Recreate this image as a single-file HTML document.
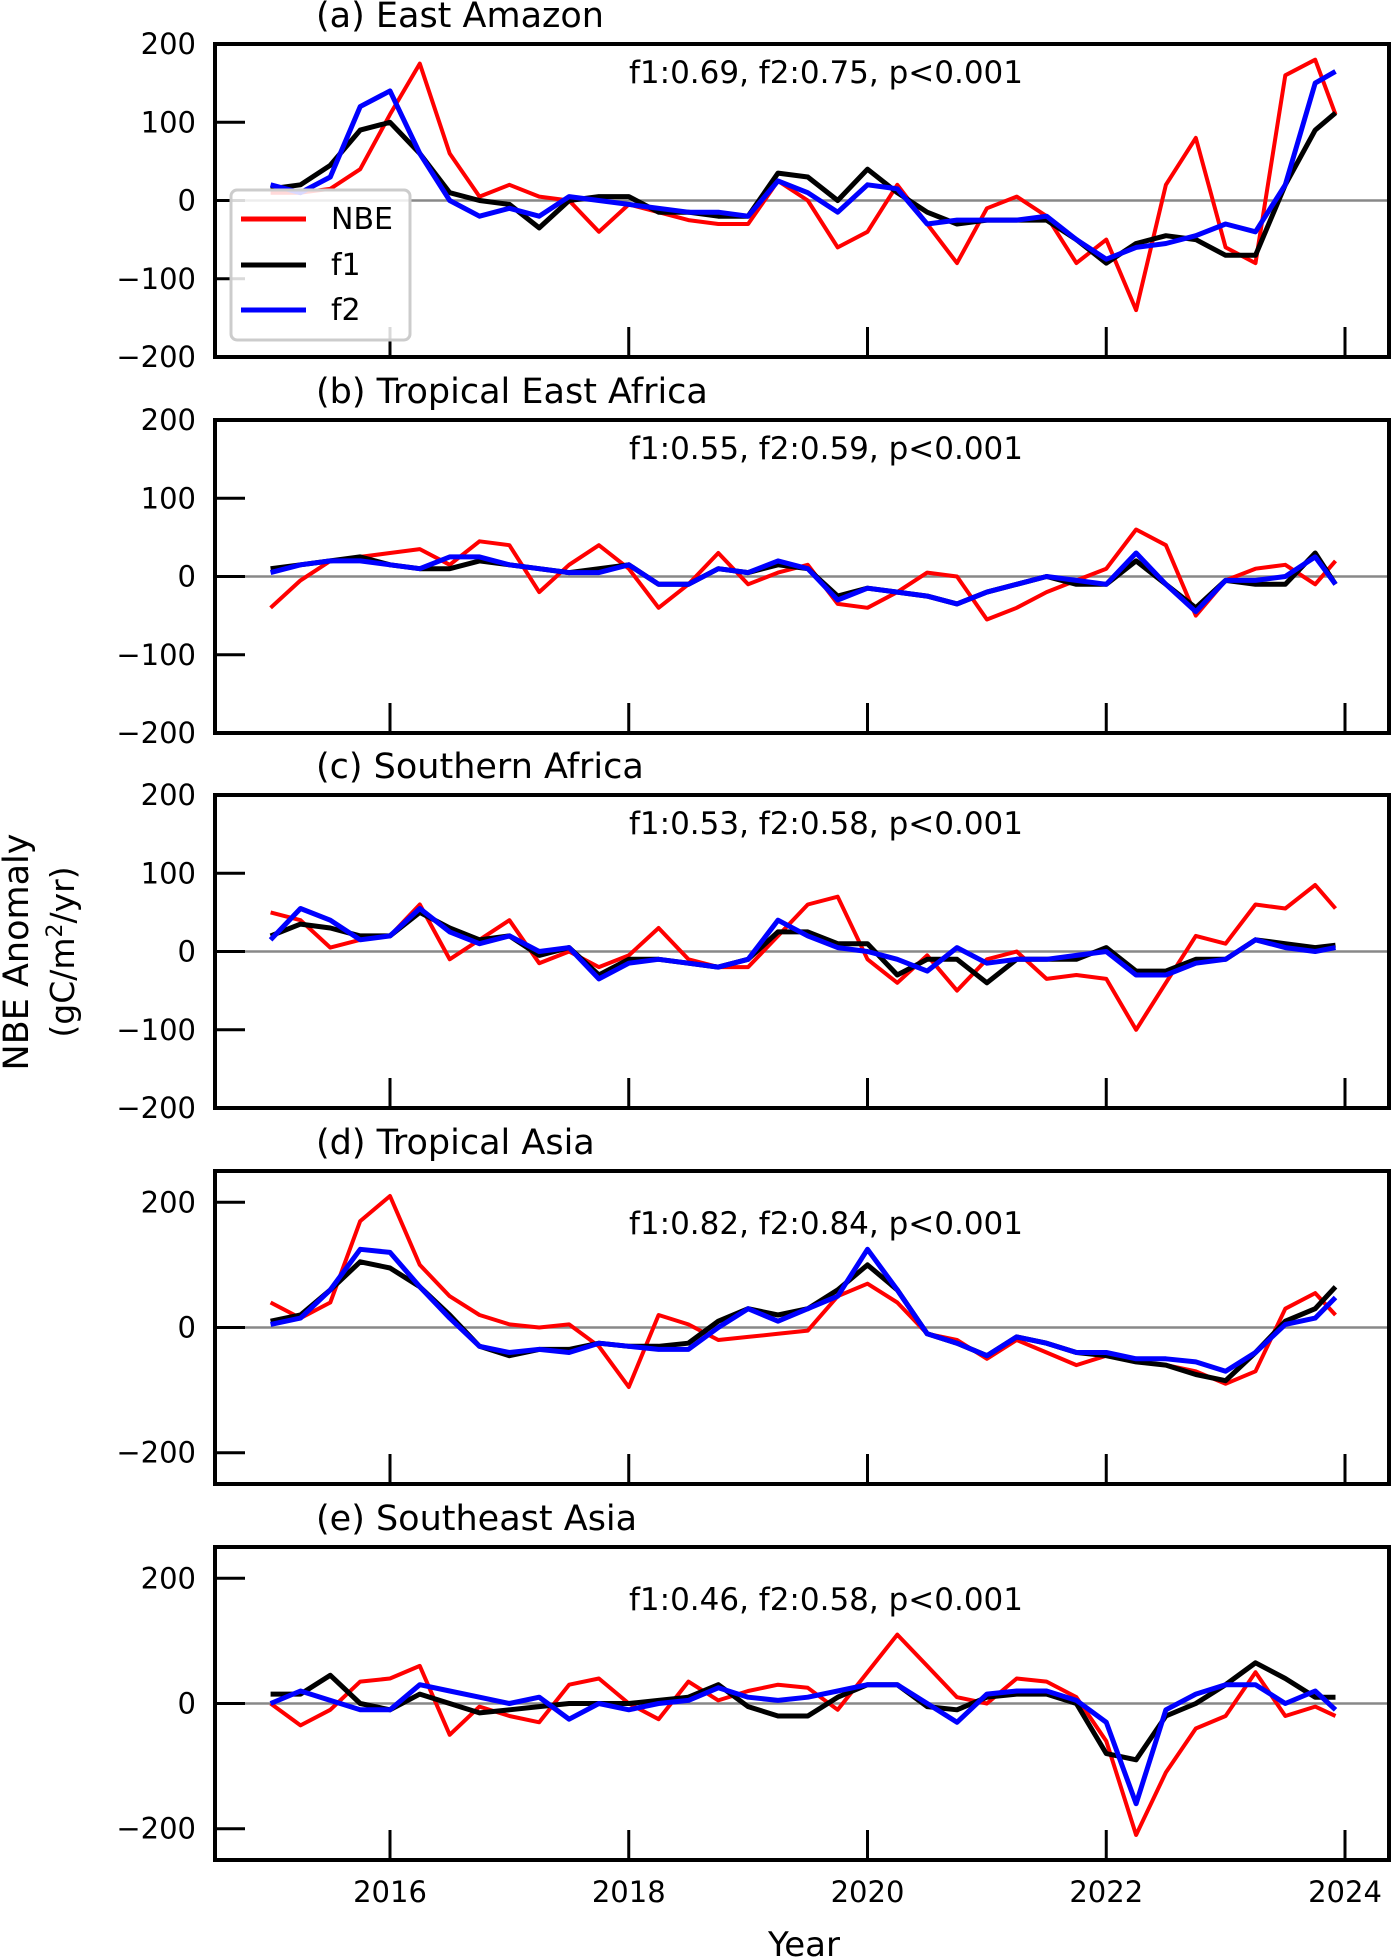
<!DOCTYPE html>
<html><head><meta charset="utf-8">
<style>
html,body{margin:0;padding:0;background:#fff;}
svg{display:block;font-family:"DejaVu Sans","Liberation Sans",sans-serif;}
</style></head>
<body>
<svg id="chart" width="1392" height="1959" viewBox="0 0 1392 1959" xmlns="http://www.w3.org/2000/svg">
<text transform="translate(28,952) rotate(-90)" text-anchor="middle" font-size="35">NBE Anomaly</text>
<text transform="translate(74,952) rotate(-90)" text-anchor="middle" font-size="33">(gC/m<tspan baseline-shift="super" font-size="22">2</tspan>/yr)</text>
<text x="804" y="1956" text-anchor="middle" font-size="34">Year</text>
</svg>
<script>
const years=[2015,2015.25,2015.5,2015.75,2016,2016.25,2016.5,2016.75,2017,2017.25,2017.5,2017.75,2018,2018.25,2018.5,2018.75,2019,2019.25,2019.5,2019.75,2020,2020.25,2020.5,2020.75,2021,2021.25,2021.5,2021.75,2022,2022.25,2022.5,2022.75,2023,2023.25,2023.5,2023.75,2023.92];
const xTicks=[2016,2018,2020,2022,2024];
const panelTitles=["(a) East Amazon","(b) Tropical East Africa","(c) Southern Africa","(d) Tropical Asia","(e) Southeast Asia"];
const panelStats=["f1:0.69, f2:0.75, p<0.001","f1:0.55, f2:0.59, p<0.001","f1:0.53, f2:0.58, p<0.001","f1:0.82, f2:0.84, p<0.001","f1:0.46, f2:0.58, p<0.001"];
const yRanges=[[-200,200],[-200,200],[-200,200],[-250,250],[-250,250]];
const yTicks=[-200,-100,0,100,200];
const yTicksDE=[-200,0,200];
const nbeA=[10,10,15,40,110,175,60,5,20,5,0,-40,-5,-15,-25,-30,-30,25,0,-60,-40,20,-30,-80,-10,5,-20,-80,-50,-140,20,80,-60,-80,160,180,110];
const f1A=[15,20,45,90,100,60,10,0,-5,-35,0,5,5,-15,-15,-20,-20,35,30,0,40,10,-15,-30,-25,-25,-25,-50,-80,-55,-45,-50,-70,-70,20,90,112];
const f2A=[20,10,30,120,140,60,0,-20,-10,-20,5,0,-5,-10,-15,-15,-20,25,10,-15,20,15,-30,-25,-25,-25,-20,-50,-75,-60,-55,-45,-30,-40,20,150,165];
const nbeB=[-40,-5,20,25,30,35,15,45,40,-20,15,40,10,-40,-10,30,-10,5,15,-35,-40,-20,5,0,-55,-40,-20,-5,10,60,40,-50,-5,10,15,-10,20];
const f1B=[10,15,20,25,15,10,10,20,15,10,5,10,15,-10,-10,10,5,15,10,-25,-15,-20,-25,-35,-20,-10,0,-10,-10,20,-10,-40,-5,-10,-10,30,-10];
const f2B=[5,15,20,20,15,10,25,25,15,10,5,5,15,-10,-10,10,5,20,10,-30,-15,-20,-25,-35,-20,-10,0,-5,-10,30,-10,-45,-5,-5,0,25,-10];
const nbeC=[50,40,5,15,20,60,-10,15,40,-15,0,-20,-5,30,-10,-20,-20,20,60,70,-10,-40,-5,-50,-10,0,-35,-30,-35,-100,-40,20,10,60,55,85,55];
const f1C=[20,35,30,20,20,50,30,15,20,-5,5,-30,-10,-10,-15,-20,-10,25,25,10,10,-30,-10,-10,-40,-10,-10,-10,5,-25,-25,-10,-10,15,10,5,8];
const f2C=[15,55,40,15,20,55,25,10,20,0,5,-35,-15,-10,-15,-20,-10,40,20,5,0,-10,-25,5,-15,-10,-10,-5,0,-30,-30,-15,-10,15,5,0,5];
const nbeD=[40,15,40,170,210,100,50,20,5,0,5,-30,-95,20,5,-20,-15,-10,-5,50,70,40,-10,-20,-50,-20,-40,-60,-45,-55,-60,-70,-90,-70,30,55,20];
const f1D=[10,20,60,105,95,65,20,-30,-45,-35,-35,-25,-30,-30,-25,10,30,20,30,60,100,60,-10,-25,-45,-15,-25,-40,-45,-55,-60,-75,-85,-40,10,30,65];
const f2D=[5,15,60,125,120,65,15,-30,-40,-35,-40,-25,-30,-35,-35,0,30,10,30,50,125,60,-10,-25,-45,-15,-25,-40,-40,-50,-50,-55,-70,-40,5,15,48];
const nbeE=[0,-35,-10,35,40,60,-50,-5,-20,-30,30,40,0,-25,35,5,20,30,25,-10,50,110,60,10,0,40,35,10,-60,-210,-110,-40,-20,50,-20,-5,-20];
const f1E=[15,15,45,0,-10,15,0,-15,-10,-5,0,0,0,5,10,30,-5,-20,-20,10,30,30,-5,-10,10,15,15,0,-80,-90,-20,0,30,65,40,10,10];
const f2E=[0,20,5,-10,-10,30,20,10,0,10,-25,0,-10,0,5,25,10,5,10,20,30,30,0,-30,15,20,20,5,-30,-160,-10,15,30,30,0,20,-10];
const nbeSeries=[nbeA,nbeB,nbeC,nbeD,nbeE];
const f1Series=[f1A,f1B,f1C,f1D,f1E];
const f2Series=[f2A,f2B,f2C,f2D,f2E];

const NS="http://www.w3.org/2000/svg";
const svg=document.getElementById('chart');
const L=215,R=1389,H=313;
const tops=[44,420,795,1171,1547];
function mk(tag,attrs,parent){const e=document.createElementNS(NS,tag);for(const k in attrs)e.setAttribute(k,attrs[k]);(parent||svg).appendChild(e);return e;}
function xs(t){return 390+(t-2016)*(1345-390)/8;}
tops.forEach((top,p)=>{
  const [y0,y1]=yRanges[p];
  const ys=v=>top+H-(v-y0)/(y1-y0)*H;
  const g=mk('g',{});
  
  
  const title=mk('text',{x:316,y:top-17,'font-size':35},g);
  
  
  title.textContent=panelTitles[p];
  const zl=mk('line',{x1:L,x2:R,y1:ys(0),y2:ys(0),stroke:'#888','stroke-width':2.5},g);
  
  
  const ticks=p<3?yTicks:yTicksDE;
  ticks.forEach(v=>{
    const tk=mk('line',{x1:L,x2:L+30,y1:ys(v),y2:ys(v),stroke:'#000','stroke-width':3},g);
    
    
    const tl=mk('text',{x:196,y:ys(v)+10,'text-anchor':'end','font-size':29},g);
    
    
    tl.textContent=(v<0?'\u2212'+(-v):v);
  });
  xTicks.forEach(t=>{
    const tk=mk('line',{x1:xs(t),x2:xs(t),y1:top+H,y2:top+H-30,stroke:'#000','stroke-width':3},g);
    
    
    if(p===4){
      const tl=mk('text',{x:xs(t),y:1902,'text-anchor':'middle','font-size':29},g);
      
      
      tl.textContent=t;
    }
  });
  const st=mk('text',{x:826,y:top+(p>=3?63:39),'text-anchor':'middle','font-size':31},g);
  
  
  st.textContent=panelStats[p];
  [[nbeSeries[p],'#ff0000',4,'nbe-line'],[f1Series[p],'#000',5,'f1-line'],[f2Series[p],'#0000ff',5,'f2-line']].forEach(([arr,c,w,n])=>{
    const d=arr.map((v,i)=>(i?'L':'M')+xs(years[i]).toFixed(1)+' '+ys(v).toFixed(1)).join(' ');
    const pl=mk('path',{d:d,fill:'none',stroke:c,'stroke-width':w,'stroke-linejoin':'round'},g);
    
    
  });
  const fr=mk('rect',{x:L,y:top,width:R-L,height:H,fill:'none',stroke:'#000','stroke-width':4},g);
  
  
  if(p===0){
    const lg=mk('g',{},g);
    
    
    mk('rect',{x:231,y:190,width:179,height:150,rx:6,fill:'rgba(255,255,255,0.85)',stroke:'#ccc','stroke-width':3},lg);
    [['NBE','#ff0000',219],['f1','#000',265],['f2','#0000ff',310]].forEach(([lab,c,yy])=>{
      const e=mk('g',{},lg);
      
      
      mk('line',{x1:241,x2:306,y1:yy,y2:yy,stroke:c,'stroke-width':5},e);
      const t=mk('text',{x:331,y:yy+10,'font-size':30},e);
      t.textContent=lab;
    });
  }
});
</script>
</body></html>
